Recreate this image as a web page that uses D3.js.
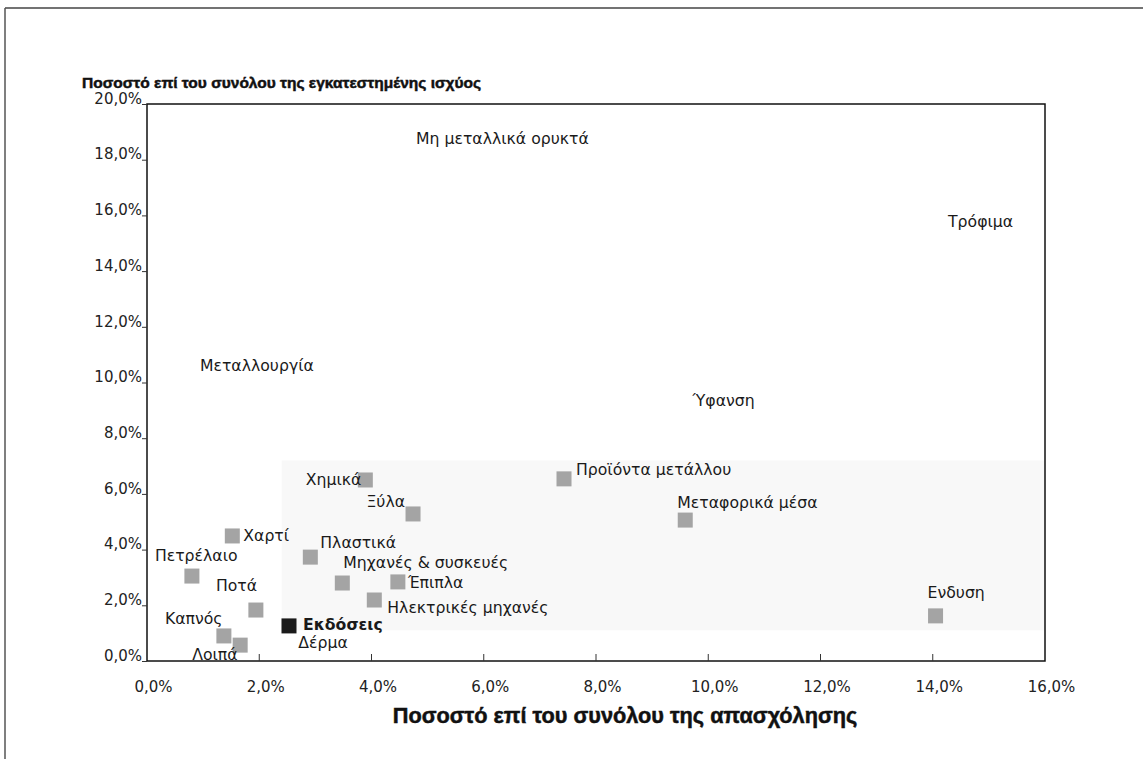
<!DOCTYPE html>
<html>
<head>
<meta charset="utf-8">
<script src="https://cdn.jsdelivr.net/npm/d3@7/dist/d3.min.js"></script>
<style>
  html, body { margin: 0; padding: 0; background: #fff; }
  svg { display: block; font-family: "Liberation Sans", Arial, sans-serif; }
</style>
</head>
<body>
<svg id="chart" width="1143" height="759"></svg>
<script>
// ---- Data ----
const sectors = [
  "Χημικά", "Ξύλα", "Πλαστικά", "Μηχανές & συσκευές", "Έπιπλα",
  "Ηλεκτρικές μηχανές", "Εκδόσεις", "Προϊόντα μετάλλου", "Μεταφορικά μέσα", "Ενδυση",
  "Χαρτί", "Πετρέλαιο", "Ποτά", "Καπνός", "Λοιπά",
  "Δέρμα", "Μεταλλουργία", "Μη μεταλλικά ορυκτά", "Τρόφιμα", "Ύφανση"
];
// x: share of total employment (%)
const employmentShare = [
  3.89, 4.74, 2.91, 3.48, 4.47,
  4.05, 2.53, 7.43, 9.59, 14.05,
  1.52, 0.80, 1.94, 1.37, 1.66,
  2.50, 0.80, 4.65, 14.13, 9.54
];
// y: share of total installed power (%)
const powerShare = [
  6.50, 5.28, 3.73, 2.80, 2.84,
  2.19, 1.26, 6.54, 5.06, 1.62,
  4.49, 3.05, 1.83, 0.90, 0.57,
  0.39, 10.59, 18.74, 15.76, 9.37
];
const xTicks = [0, 2, 4, 6, 8, 10, 12, 14, 16];
const yTicks = [0, 2, 4, 6, 8, 10, 12, 14, 16, 18, 20];
const xTitle = "Ποσοστό επί του συνόλου της απασχόλησης";
const yTitle = "Ποσοστό επί του συνόλου της εγκατεστημένης ισχύος";
const highlighted = ["Εκδόσεις"];
const unmarked = ["Δέρμα", "Μεταλλουργία", "Μη μεταλλικά ορυκτά", "Τρόφιμα", "Ύφανση"];

// ---- Layout (label placement relative to marker, px) ----
const labelPlace = {
  "Χημικά": { dx: -4, dy: 5, anchor: "end" },
  "Ξύλα": { dx: -8, dy: -7, anchor: "end" },
  "Πλαστικά": { dx: 10, dy: -9, anchor: "start" },
  "Μηχανές & συσκευές": { dx: 1, dy: -15, anchor: "start" },
  "Έπιπλα": { dx: 10, dy: 6, anchor: "start" },
  "Ηλεκτρικές μηχανές": { dx: 13, dy: 13, anchor: "start" },
  "Εκδόσεις": { dx: 14, dy: 4, anchor: "start" },
  "Προϊόντα μετάλλου": { dx: 12, dy: -4, anchor: "start" },
  "Μεταφορικά μέσα": { dx: -8, dy: -12, anchor: "start" },
  "Ενδυση": { dx: -8, dy: -18, anchor: "start" },
  "Χαρτί": { dx: 11, dy: 5, anchor: "start" },
  "Πετρέλαιο": { dx: -37, dy: -15, anchor: "start" },
  "Ποτά": { dx: -40, dy: -19, anchor: "start" },
  "Καπνός": { dx: -59, dy: -12, anchor: "start" },
  "Λοιπά": { dx: -48, dy: 15, anchor: "start" },
  "Δέρμα": { dx: 11, dy: -2, anchor: "start" },
  "Μεταλλουργία": { dx: 8, dy: 5, anchor: "start" },
  "Μη μεταλλικά ορυκτά": { dx: 8, dy: 5, anchor: "start" },
  "Τρόφιμα": { dx: 8, dy: 5, anchor: "start" },
  "Ύφανση": { dx: 10, dy: 6, anchor: "start" }
};

const svg = d3.select("#chart");
const plot = { left: 147, right: 1045, top: 104, bottom: 661 };

const x = d3.scaleLinear().domain([0, 16]).range([plot.left, plot.right]);
const y = d3.scaleLinear().domain([0, 20]).range([plot.bottom, plot.top]);

const fmt = v => v.toFixed(1).replace(".", ",") + "%";
const labelFont = "DejaVu Sans, Liberation Sans, sans-serif";

// scanned page frame
svg.append("line").attr("x1", 5).attr("x2", 1143).attr("y1", 8).attr("y2", 8)
  .attr("stroke", "#444").attr("stroke-width", 1.5);
svg.append("line").attr("x1", 5).attr("x2", 5).attr("y1", 8).attr("y2", 759)
  .attr("stroke", "#555").attr("stroke-width", 1.5);

// faint scan shading
svg.append("rect").attr("x", x(2.4)).attr("y", y(7.2)).attr("width", x(16) - x(2.4))
  .attr("height", y(1.1) - y(7.2)).attr("fill", "#f8f8f8");

// plot frame
svg.append("rect").attr("x", plot.left).attr("y", plot.top)
  .attr("width", plot.right - plot.left).attr("height", plot.bottom - plot.top)
  .attr("fill", "none").attr("stroke", "#111").attr("stroke-width", 1.5);

// axes
const xAxis = d3.axisBottom(x).tickValues(xTicks).tickFormat(fmt).tickSize(0).tickPadding(20);
const gx = svg.append("g").attr("transform", `translate(0,${plot.bottom})`).call(xAxis);
gx.select(".domain").remove();
gx.selectAll("text").attr("font-size", 15).attr("fill", "#222")
  .attr("font-family", labelFont).attr("dx", 6);
// inner x ticks
svg.append("g").selectAll("line").data(xTicks.slice(1, -1)).join("line")
  .attr("x1", d => x(d)).attr("x2", d => x(d))
  .attr("y1", plot.bottom).attr("y2", plot.bottom - 7)
  .attr("stroke", "#333").attr("stroke-width", 1);

const yAxis = d3.axisLeft(y).tickValues(yTicks).tickFormat(fmt).tickSize(5).tickPadding(0);
const gy = svg.append("g").attr("transform", `translate(${plot.left},0)`).call(yAxis);
gy.select(".domain").remove();
gy.selectAll(".tick line").attr("stroke", "#333");
gy.selectAll("text").attr("font-size", 15).attr("fill", "#222")
  .attr("font-family", labelFont).attr("dy", "-0.05em");

// titles
svg.append("text").attr("x", 82).attr("y", 88).text(yTitle)
  .attr("font-size", 15.5).attr("font-weight", "bold").attr("fill", "#111")
  .attr("stroke", "#111").attr("stroke-width", 0.5);
svg.append("text").attr("x", 625).attr("y", 723).text(xTitle)
  .attr("text-anchor", "middle").attr("font-size", 21.7).attr("font-weight", "bold").attr("fill", "#111")
  .attr("stroke", "#111").attr("stroke-width", 0.5);

// points
const pts = sectors.map((s, i) => ({ name: s, ex: employmentShare[i], pw: powerShare[i] }));
const g = svg.append("g");
g.selectAll("rect.pt").data(pts).join("rect").attr("class", "pt")
  .attr("x", d => x(d.ex) - 7.5).attr("y", d => y(d.pw) - 7.5)
  .attr("width", 15).attr("height", 15)
  .attr("fill", d => unmarked.includes(d.name) ? "none" : (highlighted.includes(d.name) ? "#1a1a1a" : "#a4a4a4"));

g.selectAll("text.lbl").data(pts).join("text").attr("class", "lbl")
  .attr("x", d => x(d.ex) + labelPlace[d.name].dx)
  .attr("y", d => y(d.pw) + labelPlace[d.name].dy)
  .attr("text-anchor", d => labelPlace[d.name].anchor)
  .attr("font-family", labelFont)
  .attr("font-size", 15.7)
  .attr("font-weight", d => highlighted.includes(d.name) ? "bold" : "normal")
  .attr("fill", "#1a1a1a")
  .text(d => d.name);
</script>
</body>
</html>
